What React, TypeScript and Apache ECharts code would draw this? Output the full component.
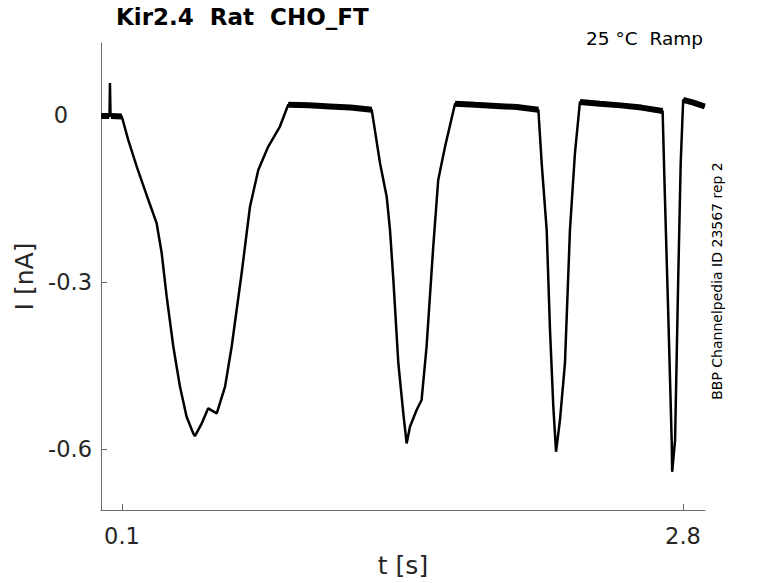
import React, { useEffect, useRef } from "react";
import * as echarts from "echarts";

// Time (s) and current (nA)
const timeS: number[] = [
  0.0, 0.033, 0.04, 0.042, 0.045, 0.07, 0.099, 0.13, 0.171, 0.227, 0.267, 0.291, 0.315, 0.347,
  0.379, 0.411, 0.443, 0.451, 0.484, 0.515, 0.556, 0.596, 0.628, 0.676, 0.716, 0.756, 0.804,
  0.86, 0.9, 1.0, 1.1, 1.2, 1.302, 1.342, 1.374, 1.39, 1.406, 1.43, 1.454, 1.47, 1.486, 1.518,
  1.542, 1.566, 1.598, 1.622, 1.655, 1.703, 1.8, 1.9, 2.0, 2.104, 2.12, 2.144, 2.16, 2.176,
  2.189, 2.208, 2.232, 2.256, 2.28, 2.304, 2.4, 2.5, 2.6, 2.702, 2.713, 2.729, 2.746, 2.748,
  2.762, 2.777, 2.789, 2.801, 2.85, 2.905,
];
const currentNA: number[] = [
  -0.002, -0.002, -0.002, 0.057, -0.002, -0.001, -0.003, -0.045, -0.093, -0.153, -0.195, -0.248,
  -0.326, -0.416, -0.488, -0.542, -0.572, -0.577, -0.554, -0.527, -0.536, -0.488, -0.416, -0.284,
  -0.165, -0.099, -0.057, -0.021, 0.018, 0.017, 0.015, 0.013, 0.009, -0.087, -0.147, -0.207,
  -0.296, -0.446, -0.536, -0.59, -0.56, -0.53, -0.512, -0.416, -0.237, -0.117, -0.057, 0.02,
  0.018, 0.016, 0.014, 0.009, -0.087, -0.207, -0.386, -0.524, -0.605, -0.548, -0.446, -0.207,
  -0.069, 0.023, 0.02, 0.017, 0.013, 0.007, -0.147, -0.356, -0.59, -0.641, -0.584, -0.296,
  -0.087, 0.027, 0.022, 0.015,
];

// Noisy holding plateaus (band centre), null separates the plateaus
const plateauTimeS: (number | null)[] = [
  0.0, 0.038, null, 0.047, 0.099, null,
  0.9, 1.0, 1.1, 1.2, 1.302, null,
  1.703, 1.8, 1.9, 2.0, 2.104, null,
  2.304, 2.4, 2.5, 2.6, 2.702, null,
  2.801, 2.85, 2.905,
];
const plateauNA: (number | null)[] = [
  -0.002, -0.002, null, -0.002, -0.003, null,
  0.018, 0.017, 0.015, 0.013, 0.009, null,
  0.02, 0.018, 0.016, 0.014, 0.009, null,
  0.023, 0.02, 0.017, 0.013, 0.007, null,
  0.027, 0.022, 0.015,
];

const xTicks: number[] = [0.1, 2.8];
const yTicks: number[] = [-0.6, -0.3, 0];

const titleText = "Kir2.4  Rat  CHO_FT";
const conditionText = "25 °C  Ramp";
const sideText = "BBP Channelpedia ID 23567 rep 2";

export default function App() {
  const ref = useRef<HTMLDivElement>(null);

  useEffect(() => {
    if (!ref.current) return;
    const chart = echarts.init(ref.current, null, { renderer: "svg" });
    const data = timeS.map((t, i) => [t, currentNA[i]]);
    const plateauData = plateauTimeS.map((t, i) =>
      t === null || plateauNA[i] === null ? [null, null] : [t, plateauNA[i]]
    );
    const axisColor = "#262626";
    const lineGrey = "#6b6b6b";
    const font = "DejaVu Sans";

    chart.setOption({
      animation: false,
      backgroundColor: "#ffffff",
      grid: { left: 101, top: 43, right: 73, bottom: 73, containLabel: false },
      xAxis: {
        type: "value",
        min: -0.001,
        max: 2.906,
        name: "t [s]",
        nameLocation: "middle",
        nameGap: 43,
        nameTextStyle: { fontFamily: font, fontSize: 25, color: axisColor },
        axisLine: { show: true, onZero: false, lineStyle: { color: lineGrey, width: 1 } },
        axisTick: { show: true, inside: true, length: 6, customValues: xTicks, lineStyle: { color: lineGrey } },
        axisLabel: {
          customValues: xTicks,
          fontFamily: font,
          fontSize: 22.5,
          color: axisColor,
          margin: 14,
          formatter: (v: number) => v.toFixed(1),
        },
        splitLine: { show: false },
      },
      yAxis: {
        type: "value",
        min: -0.7096,
        max: 0.129,
        name: "I [nA]",
        nameLocation: "middle",
        nameGap: 58,
        nameRotate: 90,
        nameTextStyle: { fontFamily: font, fontSize: 25, color: axisColor },
        axisLine: { show: true, onZero: false, lineStyle: { color: lineGrey, width: 1 } },
        axisTick: { show: true, inside: true, length: 6, customValues: yTicks, lineStyle: { color: lineGrey } },
        axisLabel: {
          customValues: yTicks,
          fontFamily: font,
          fontSize: 22.5,
          color: axisColor,
          margin: 9,
          formatter: (v: number) => (Math.abs(v) < 1e-9 ? "{z|0}" : v.toFixed(1)),
          rich: { z: { fontFamily: font, fontSize: 22.5, color: axisColor, padding: [0, 24, 0, 0] } },
        },
        splitLine: { show: false },
      },
      series: [
        {
          type: "line",
          data,
          showSymbol: false,
          symbol: "none",
          lineStyle: { color: "#000000", width: 2.5 },
          clip: true,
        },
        {
          type: "line",
          data: plateauData,
          showSymbol: false,
          symbol: "none",
          connectNulls: false,
          lineStyle: { color: "#000000", width: 6 },
          clip: true,
        },
      ],
      graphic: [
        {
          type: "text",
          left: 116,
          top: 5,
          style: { text: titleText, font: `bold 23px ${font}`, fill: "#000000" },
        },
        {
          type: "text",
          right: 75,
          top: 29,
          style: { text: conditionText, font: `18.5px ${font}`, fill: "#000000" },
        },
        {
          type: "text",
          x: 717,
          y: 281,
          rotation: Math.PI / 2,
          style: {
            text: sideText,
            font: `14px ${font}`,
            fill: "#000000",
            align: "center",
            verticalAlign: "middle",
          },
        },
      ],
    });

    return () => chart.dispose();
  }, []);

  return (
    <div
      ref={ref}
      style={{ position: "fixed", left: 0, top: 0, width: 778, height: 583, overflow: "hidden" }}
    />
  );
}
